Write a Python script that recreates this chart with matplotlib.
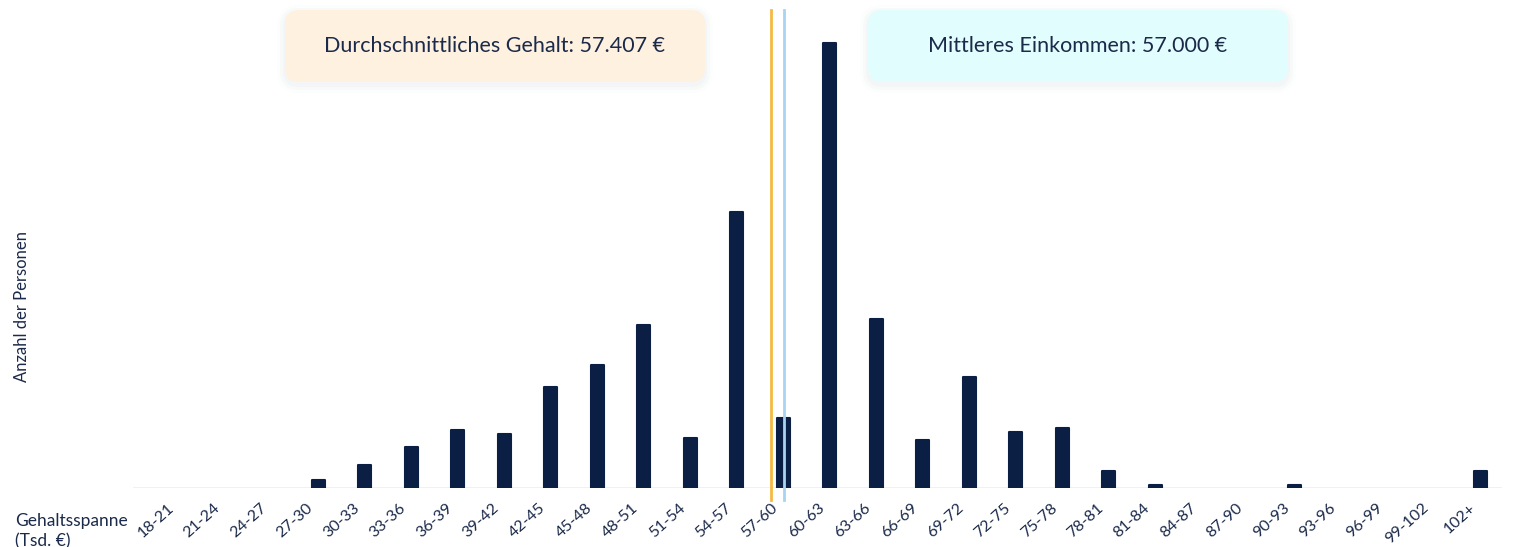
import matplotlib
matplotlib.use("Agg")
import matplotlib.pyplot as plt
from matplotlib.patches import FancyBboxPatch
from matplotlib.transforms import IdentityTransform, ScaledTranslation
import numpy as np

categories = ["18-21", "21-24", "24-27", "27-30", "30-33", "33-36", "36-39", "39-42",
              "42-45", "45-48", "48-51", "51-54", "54-57", "57-60", "60-63", "63-66",
              "66-69", "69-72", "72-75", "75-78", "78-81", "81-84", "84-87", "87-90",
              "90-93", "93-96", "96-99", "99-102", "102+"]
counts = [0, 0, 0, 8, 23, 41, 58, 54, 101, 123, 163, 50, 276, 70, 445, 169,
          48, 111, 56, 60, 17, 3, 0, 0, 3, 0, 0, 0, 17]
mean_pos = 12.74
median_pos = 13.02
mean_label = "Durchschnittliches Gehalt: 57.407 €"
median_label = "Mittleres Einkommen: 57.000 €"

navy = "#0B1F45"
text_c = "#1B2A4A"
plt.rcParams['font.family'] = ['Lato', 'DejaVu Sans']

W, H = 1524, 547
fig = plt.figure(figsize=(W/100, H/100), dpi=100)
ax = fig.add_axes([133/W, 1-488/H, (1502-133)/W, 478/H])

x = np.arange(len(categories))
lws = [1.5 if c > 0 else 0 for c in counts]
ax.bar(x, counts, width=0.28, color=navy, edgecolor=navy, linewidth=lws,
       joinstyle='round', zorder=3)
ax.set_xlim(-0.98, 28.46)
ax.set_ylim(0, 478)

for s in ax.spines.values():
    s.set_visible(False)
ax.axhline(0, color="#EDEFF2", lw=1.2, zorder=1)
ax.set_yticks([])
ax.set_xticks(x)
ax.set_xticklabels(categories, rotation=42, ha='right', va='center',
                   rotation_mode='anchor', fontsize=11.5, color=text_c)
ax.tick_params(axis='x', length=0, pad=13)
off = ScaledTranslation(-7/100, 0, fig.dpi_scale_trans)
for lab in ax.get_xticklabels():
    lab.set_transform(lab.get_transform() + off)

ax.axvline(mean_pos, ymin=-0.025, ymax=1.0, color="#F5B945", lw=2, clip_on=False, zorder=4)
ax.axvline(median_pos, ymin=-0.025, ymax=1.0, color="#A9D3F2", lw=2, clip_on=False, zorder=4)

tr = IdentityTransform()

def box(x0, y0, x1, y1, fc, label):
    for i, a in enumerate([0.035, 0.025, 0.015]):
        g = 2 + i * 3
        sh = FancyBboxPatch((x0 - g, H - y1 - g - 3), (x1 - x0) + 2*g, (y1 - y0) + 2*g,
                            boxstyle="round,pad=0,rounding_size=%d" % (14 + g), transform=tr,
                            fc="#7A8CA0", ec="none", alpha=a, zorder=0)
        fig.patches.append(sh)
    p = FancyBboxPatch((x0, H - y1), (x1 - x0), (y1 - y0),
                       boxstyle="round,pad=0,rounding_size=14", transform=tr,
                       fc=fc, ec="none", zorder=1)
    fig.patches.append(p)
    fig.text((x0 + x1)/2/W, 1 - (y0 + y1)/2/H, label, ha='center', va='center',
             fontsize=15.5, color=text_c)

box(285, 10, 705, 82, "#FFF1E0", mean_label)
box(868, 10, 1288, 82, "#E2FDFD", median_label)

fig.text(22/W, 1-307/H, "Anzahl der Personen", rotation=90, ha='center', va='center', fontsize=12, color=text_c)
fig.text(15/W, 1-531/H, "Gehaltsspanne\n(Tsd. €)", ha='left', va='center', fontsize=12.5, color=text_c, linespacing=1.35)

fig.savefig("out.png", dpi=100)
